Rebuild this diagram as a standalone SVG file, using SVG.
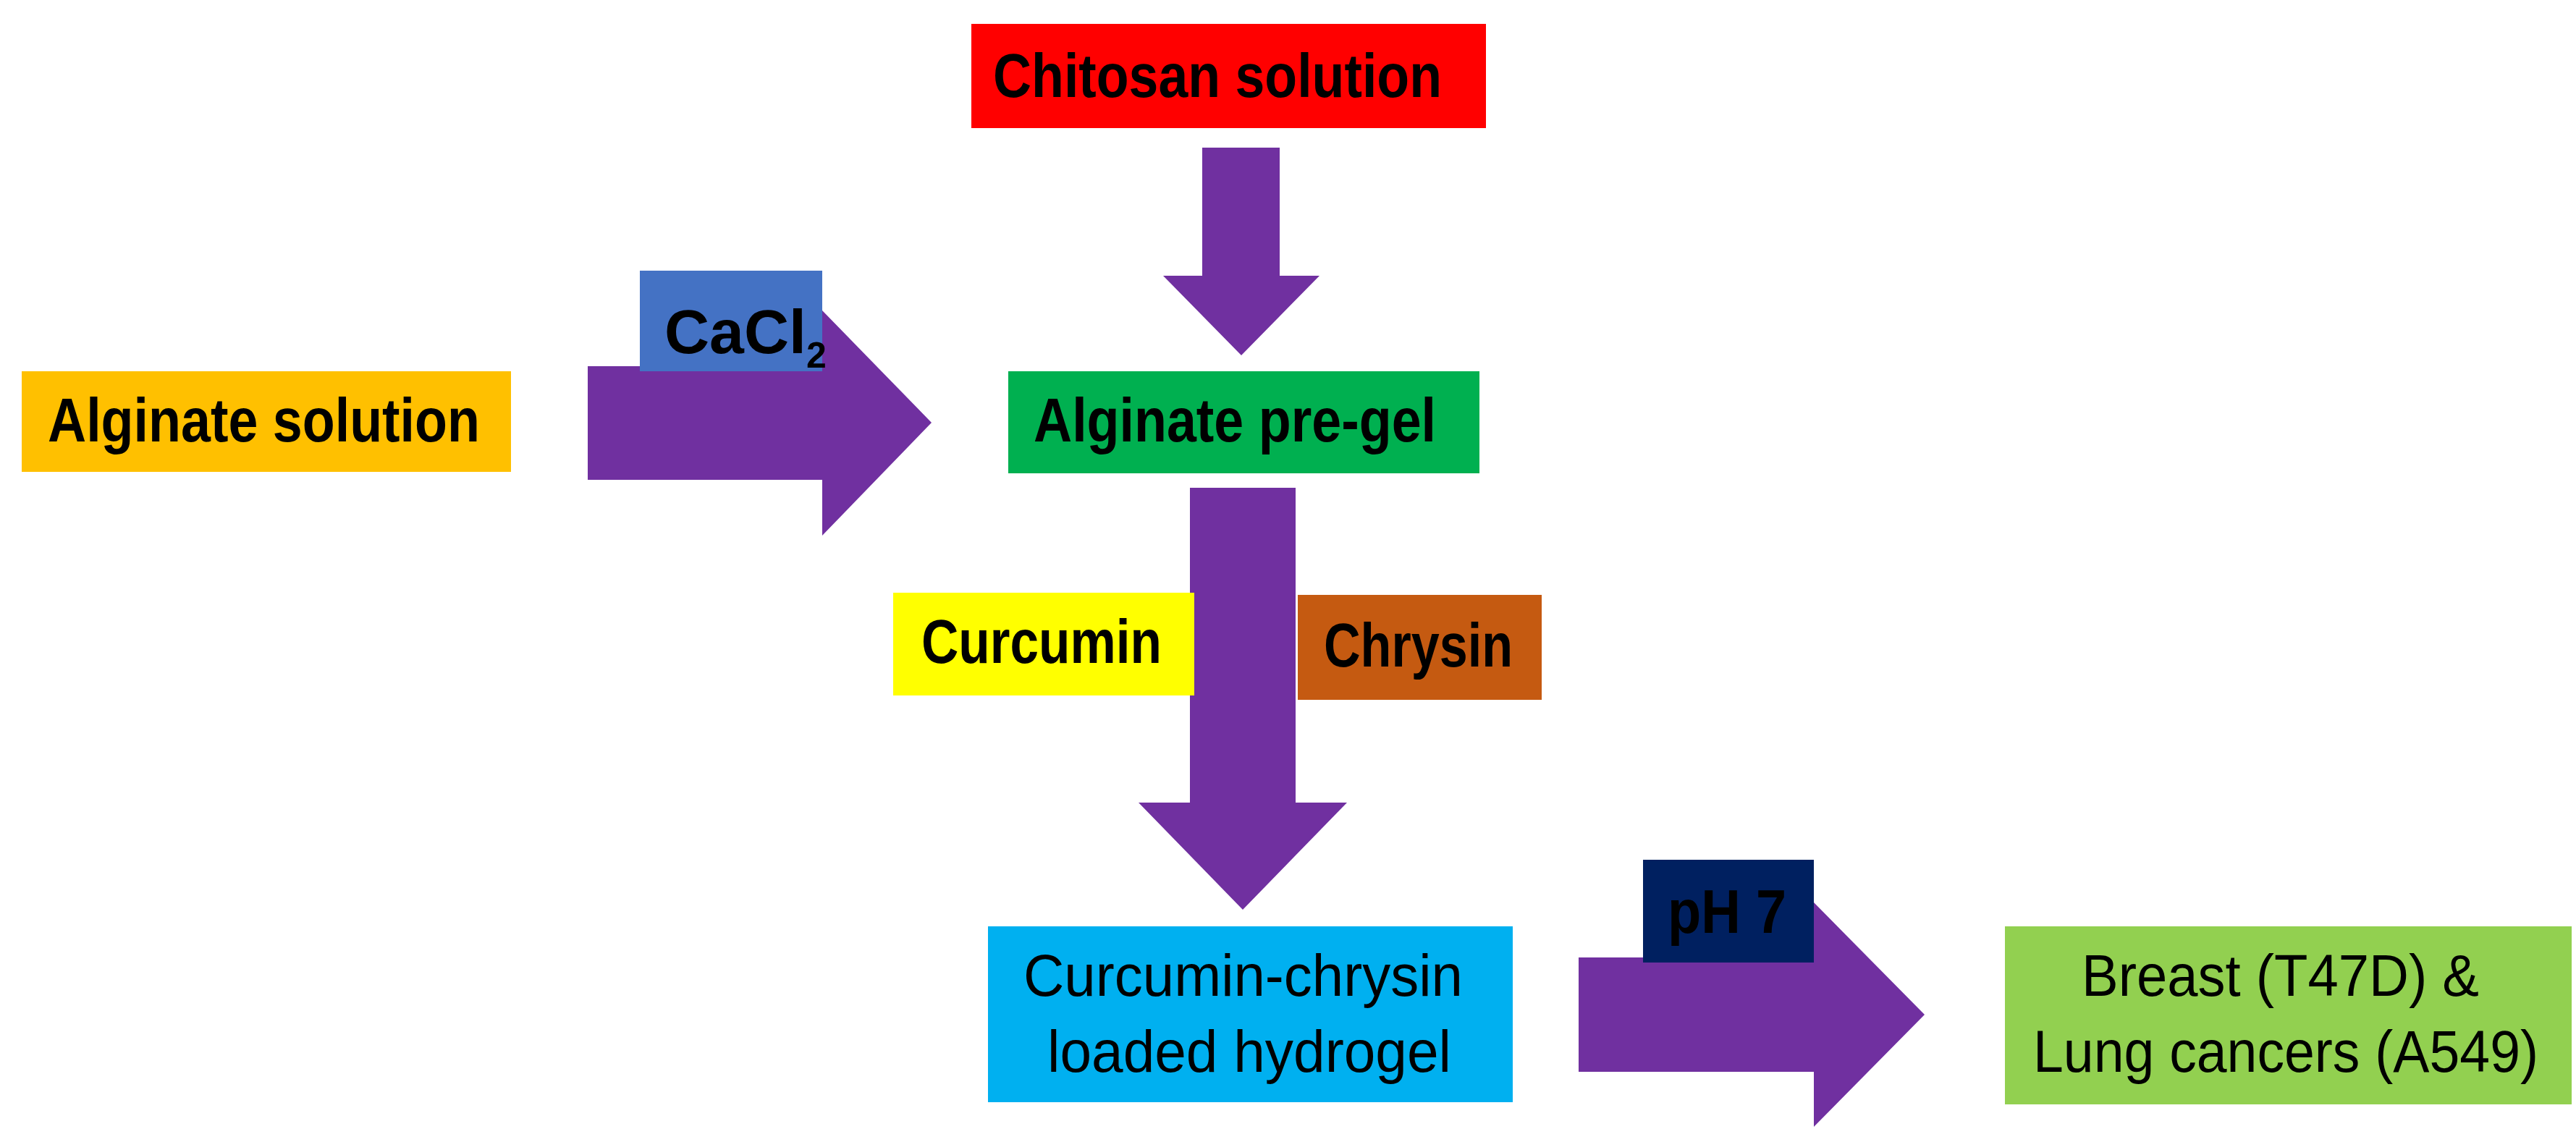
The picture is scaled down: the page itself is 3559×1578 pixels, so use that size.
<svg xmlns="http://www.w3.org/2000/svg" width="3559" height="1578" viewBox="0 0 3559 1578">
<style>
text{font-family:"Liberation Sans",Arial,sans-serif;fill:#000}
.b{font-weight:bold;font-size:86px}
.r{font-size:82px}
.arr{fill:#7030A0}
</style>
<rect width="3559" height="1578" fill="#fff"/>
<g id="connectors">
<polygon class="arr" points="1661,204 1768,204 1768,381 1823,381 1715,491 1607,381 1661,381"/>
<polygon class="arr" points="812,506 1136,506 1136,429 1287,584 1136,740 1136,663 812,663"/>
<polygon class="arr" points="1644,674 1790,674 1790,1109 1861,1109 1717,1257 1573,1109 1644,1109"/>
<polygon class="arr" points="2181,1323 2506,1323 2506,1247 2659,1402 2506,1557 2506,1481 2181,1481"/>
</g>
<g id="chitosan"><rect x="1342" y="33" width="711" height="144" fill="#FF0000"/><text class="b" x="1372" y="134" textLength="620" lengthAdjust="spacingAndGlyphs">Chitosan solution</text></g>
<g id="alginate-solution"><rect x="30" y="513" width="676" height="139" fill="#FFC000"/><text class="b" x="66" y="610" textLength="597" lengthAdjust="spacingAndGlyphs">Alginate solution</text></g>
<g id="cacl2"><rect x="884" y="374" width="252" height="139" fill="#4472C4"/><text class="b" x="918" y="488">CaCl<tspan dy="20" style="font-size:50px">2</tspan></text></g>
<g id="pregel"><rect x="1393" y="513" width="651" height="141" fill="#00B050"/><text class="b" x="1428" y="610" textLength="556" lengthAdjust="spacingAndGlyphs">Alginate pre-gel</text></g>
<g id="curcumin"><rect x="1234" y="819" width="416" height="142" fill="#FFFF00"/><text class="b" x="1273" y="916" textLength="332" lengthAdjust="spacingAndGlyphs">Curcumin</text></g>
<g id="chrysin"><rect x="1793" y="822" width="337" height="145" fill="#C55A11"/><text class="b" x="1829" y="921" textLength="261" lengthAdjust="spacingAndGlyphs">Chrysin</text></g>
<g id="ph7"><rect x="2270" y="1188" width="236" height="142" fill="#002060"/><text class="b" x="2304" y="1289" textLength="164" lengthAdjust="spacingAndGlyphs">pH 7</text></g>
<g id="hydrogel"><rect x="1365" y="1280" width="725" height="243" fill="#00B0F0"/><text class="r" x="1414" y="1376" textLength="607" lengthAdjust="spacingAndGlyphs">Curcumin-chrysin</text><text class="r" x="1447" y="1481" textLength="558" lengthAdjust="spacingAndGlyphs">loaded hydrogel</text></g>
<g id="cancers"><rect x="2770" y="1280" width="783" height="246" fill="#92D050"/><text class="r" x="2876" y="1376" textLength="549" lengthAdjust="spacingAndGlyphs">Breast (T47D) &amp;</text><text class="r" x="2809" y="1481" textLength="698" lengthAdjust="spacingAndGlyphs">Lung cancers (A549)</text></g>
</svg>
